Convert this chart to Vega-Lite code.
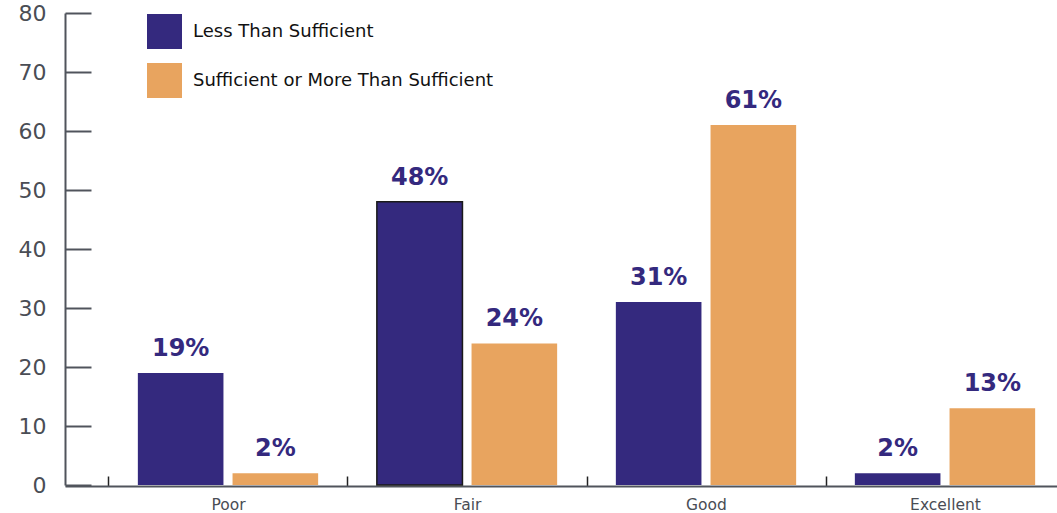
{
  "$schema": "https://vega.github.io/schema/vega-lite/v6.json",
  "autosize": "none",
  "padding": {"left": 65, "top": 13, "right": 0, "bottom": 28},
  "width": 1043,
  "height": 472,
  "background": "white",
  "config": {
    "view": {"stroke": null},
    "font": "DejaVu Sans"
  },
  "data": {
    "values": [
      {"rating": "Poor", "group": "Less Than Sufficient", "value": 19},
      {"rating": "Poor", "group": "Sufficient or More Than Sufficient", "value": 2},
      {"rating": "Fair", "group": "Less Than Sufficient", "value": 48},
      {"rating": "Fair", "group": "Sufficient or More Than Sufficient", "value": 24},
      {"rating": "Good", "group": "Less Than Sufficient", "value": 31},
      {"rating": "Good", "group": "Sufficient or More Than Sufficient", "value": 61},
      {"rating": "Excellent", "group": "Less Than Sufficient", "value": 2},
      {"rating": "Excellent", "group": "Sufficient or More Than Sufficient", "value": 13}
    ]
  },
  "encoding": {
    "x": {
      "field": "rating",
      "type": "nominal",
      "sort": ["Poor", "Fair", "Good", "Excellent"],
      "scale": {"paddingInner": 0, "paddingOuter": 0.182},
      "axis": {
        "title": null,
        "labelAngle": 0,
        "labelFont": "DejaVu Sans",
        "labelFontSize": 15.5,
        "labelColor": "#4a4d55",
        "labelPadding": 21,
        "tickBand": "extent",
        "tickSize": -10,
        "tickWidth": 1.5,
        "tickColor": "#222222",
        "domainColor": "#50545c",
        "domainWidth": 2,
        "offset": 1
      }
    },
    "xOffset": {
      "field": "group",
      "type": "nominal",
      "scale": {"paddingInner": 0.096, "paddingOuter": 0.31}
    },
    "y": {
      "field": "value",
      "type": "quantitative",
      "scale": {"domain": [0, 80]},
      "axis": {
        "title": null,
        "values": [0, 10, 20, 30, 40, 50, 60, 70, 80],
        "grid": false,
        "labelFont": "DejaVu Sans",
        "labelFontSize": 22,
        "labelColor": "#4a4d55",
        "labelPadding": 45,
        "tickSize": -26,
        "tickWidth": 2,
        "tickColor": "#50545c",
        "domainColor": "#50545c",
        "domainWidth": 2
      }
    }
  },
  "layer": [
    {
      "mark": {"type": "bar"},
      "encoding": {
        "color": {
          "field": "group",
          "type": "nominal",
          "scale": {
            "domain": ["Less Than Sufficient", "Sufficient or More Than Sufficient"],
            "range": ["#34297e", "#e8a45f"]
          },
          "legend": {
            "title": null,
            "orient": "none",
            "legendX": 82,
            "legendY": 1,
            "padding": 0,
            "symbolType": "square",
            "symbolSize": 1225,
            "symbolStrokeWidth": 0,
            "symbolOpacity": 1,
            "rowPadding": 14,
            "labelOffset": 11,
            "labelFont": "DejaVu Sans",
            "labelFontSize": 18,
            "labelColor": "#111111",
            "labelLimit": 500
          }
        },
        "stroke": {
          "condition": {"test": "datum.rating === 'Fair' && datum.group === 'Less Than Sufficient'", "value": "#1a1a1a"},
          "value": null
        },
        "strokeWidth": {"value": 1.5}
      }
    },
    {
      "mark": {
        "type": "text",
        "text": {"expr": "datum.value + '%'"},
        "font": "DejaVu Sans",
        "fontWeight": "bold",
        "fontSize": 24,
        "color": "#34297e",
        "baseline": "middle",
        "dy": -24
      }
    }
  ]
}
